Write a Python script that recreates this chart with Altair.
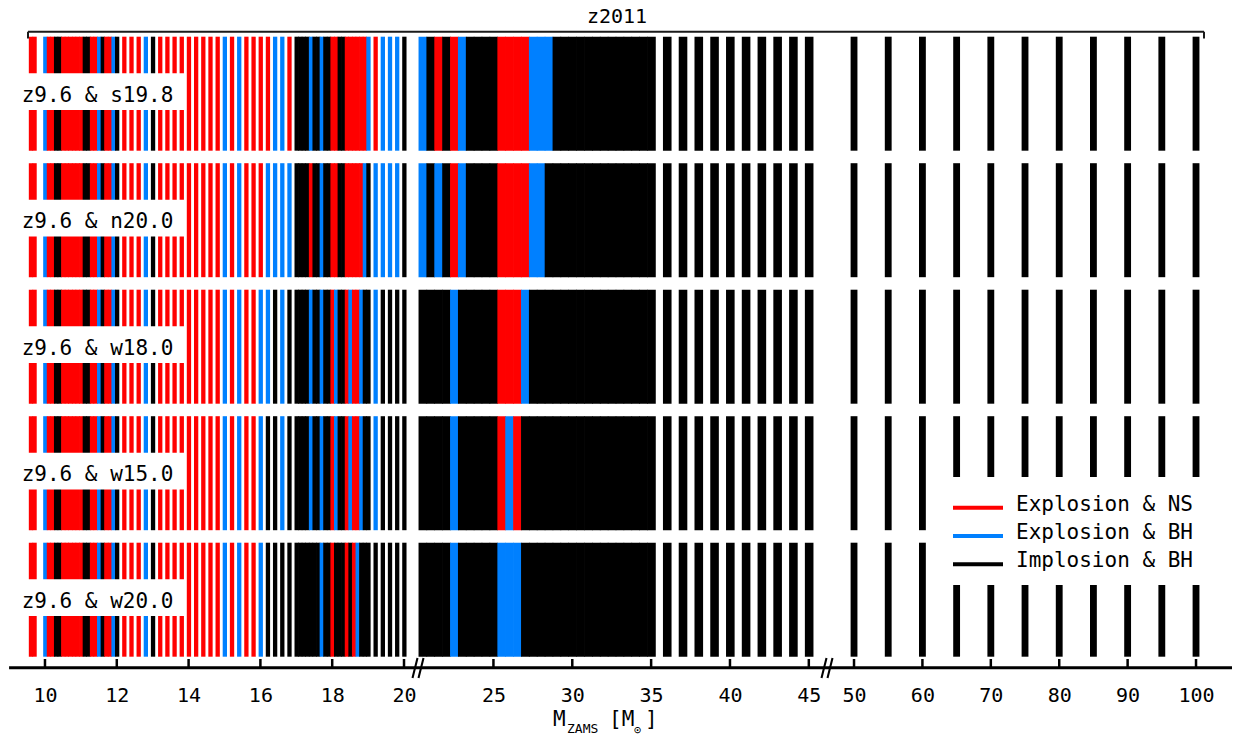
import altair as alt
import pandas as pd

# ------------------------------------------------------------------
# Progenitor masses (M_sun) of the z2011 series, grouped by grid spacing
# ------------------------------------------------------------------
mass_fine_lo = [9.6, 9.7, 10.0, 10.1, 10.2, 10.3, 10.4, 10.5, 10.6, 10.7, 10.8, 10.9,
                11.0, 11.1, 11.2, 11.3, 11.4, 11.5, 11.6, 11.7, 11.8, 11.9, 12.0]
mass_coarse_lo = [12.2, 12.4, 12.6, 12.8, 13.0, 13.2, 13.4, 13.6, 13.8, 14.0, 14.2, 14.4,
                  14.6, 14.8, 15.0, 15.2, 15.4, 15.6, 15.8, 16.0, 16.2, 16.4, 16.6, 16.8]
mass_fine_hi = [17.0, 17.1, 17.2, 17.3, 17.4, 17.5, 17.6, 17.7, 17.8, 17.9, 18.0,
                18.1, 18.2, 18.3, 18.4, 18.5, 18.6, 18.7, 18.8, 18.9, 19.0]
mass_coarse_hi = [19.2, 19.4, 19.6, 19.8, 20.0]
mass_mid = [20.5, 21.0, 21.5, 22.0, 22.5, 23.0, 23.5, 24.0, 24.5, 25.0, 25.5, 26.0,
            26.5, 27.0, 27.5, 28.0, 28.5, 29.0, 29.5, 30.0, 30.5, 31.0, 31.5, 32.0,
            32.5, 33.0, 33.5, 34.0, 34.5, 35.0]
mass_high = [36, 37, 38, 39, 40, 41, 42, 43, 44, 45]
mass_top = [50, 55, 60, 65, 70, 75, 80, 85, 90, 95, 100]

masses = (mass_fine_lo + mass_coarse_lo + mass_fine_hi + mass_coarse_hi
          + mass_mid + mass_high + mass_top)

# Calibration models, top to bottom
calibrations = ["z9.6 & s19.8", "z9.6 & n20.0", "z9.6 & w18.0", "z9.6 & w15.0", "z9.6 & w20.0"]

# Outcome per mass: N = explosion & NS, B = explosion & BH, I = implosion & BH
outcome_s198 = ("NNBNNIINNNNNNIINNBINNBI" "NNNBINNNNNNNNNBNBNNNNBBN"
                "IIIIBIIBIINNIINNNNNNB" "NBBBI"
                "BININBIIIINNNNBBBIIIIIIIIIIIII" "IIIIIIIIII" "IIIIIIIIIII")
outcome_n200 = ("NNBNNIINNNNNNIINNBINNBI" "NNNBINNNNNNNNNBNBNNNBBBB"
                "IIIINIIBIINNIINNNNNBI" "BBBBI"
                "BIBINBIIIINNNNBBIIIIIIIIIIIIII" "IIIIIIIIII" "IIIIIIIIIII")
outcome_w180 = ("NNBNNIINNNNNNIINNBINNBI" "NNNBINNNNNNNNNBNBNNBBIBI"
                "IIIIBIIBIINBIINBNNBII" "BIIII"
                "IIIIBIIIIINNNBIIIIIIIIIIIIIIII" "IIIIIIIIII" "IIIIIIIIIII")
outcome_w150 = ("NNBNNIINNNNNNIINNBINNBI" "NNNBINNNNNNNNNBNBNNBIIBI"
                "IIIIBIIBIINBIINBNNBII" "BIIII"
                "IIIIBIIIIINBNIIIIIIIIIIIIIIIII" "IIIIIIIIII" "IIIIIIIIIII")
outcome_w200 = ("NNBNNIINNNNNNIINNBINNBI" "NNNBINNNNNNNNNBNBNNBIIII"
                "IIIIIIIBIINIIININBIII" "IIIII"
                "IIIIBIIIIIBBBIIIIIIIIIIIIIIIII" "IIIIIIIIII" "IIIIIIIIIII")
outcomes = [outcome_s198, outcome_n200, outcome_w180, outcome_w150, outcome_w200]

outcome_names = {"N": "Explosion & NS", "B": "Explosion & BH", "I": "Implosion & BH"}
legend_labels = ["Explosion & NS", "Explosion & BH", "Implosion & BH"]
legend_colors = ["#ff0000", "#0080ff", "#000000"]

tick_values = [10, 12, 14, 16, 18, 20, 25, 30, 35, 40, 45, 50, 60, 70, 80, 90, 100]

FONT = "DejaVu Sans Mono"

# ------------------------------------------------------------------
# Tables for the library
# ------------------------------------------------------------------
records = []
for r, codes in enumerate(outcomes):
    assert len(codes) == len(masses)
    for m, c in zip(masses, codes):
        # stripe width follows the grid spacing of each axis segment;
        # a small overlap on the right keeps touching stripes seamless
        if m <= 20:
            w, lap = 0.1, 0.02
        elif m <= 45:
            w, lap = 0.5, 0.045
        else:
            w, lap = 1.0, 0.0
        records.append({"row": r, "mass": m, "outcome": outcome_names[c],
                        "x0": m - w / 2, "x1": m + w / 2 + lap,
                        "y0": r, "y1": r + 0.9012})
bars_df = pd.DataFrame(records)

labels_df = pd.DataFrame({
    "name": calibrations,
    "bx0": [8.75] * 5, "bx1": [13.9] * 5,
    "by0": [r + 0.2893 for r in range(5)],
    "by1": [r + 0.5795 for r in range(5)],
    "tx": [9.35] * 5,
    "ty": [r + 0.516 for r in range(5)],
})

ticks_df = pd.DataFrame({"tick": tick_values})

# broken mass axis: three linear pieces joined into one piecewise scale
xs = alt.Scale(domain=[8.75, 20.1, 20.2, 45.5, 47.0, 105.26],
               range=[0.1, 407.6, 417.75, 816.7, 833.5, 1232.0],
               zero=False, nice=False)
ys = alt.Scale(domain=[0, 5], range=[36.7, 669.2], zero=False, nice=False)

base_w, base_h = 1234, 668

bars = alt.Chart(bars_df).mark_rect().encode(
    x=alt.X("x0:Q", scale=xs,
            axis=alt.Axis(values=tick_values, format="d", domain=False, ticks=False,
                          tickSize=0, grid=False, labelFont=FONT, labelFontSize=20,
                          labelColor="black", labelPadding=17, labelFlush=False,
                          labelOverlap=False, title=None)),
    x2="x1:Q",
    y=alt.Y("y0:Q", scale=ys, axis=None),
    y2="y1:Q",
    color=alt.Color("outcome:N", scale=alt.Scale(domain=legend_labels, range=legend_colors),
                    legend=None),
)

label_boxes = alt.Chart(labels_df).mark_rect(color="white").encode(
    x=alt.X("bx0:Q", scale=xs, axis=None), x2="bx1:Q",
    y=alt.Y("by0:Q", scale=ys, axis=None), y2="by1:Q",
)
label_text = alt.Chart(labels_df).mark_text(
    font=FONT, fontSize=21, align="left", baseline="alphabetic", color="black"
).encode(
    x=alt.X("tx:Q", scale=xs, axis=None),
    y=alt.Y("ty:Q", scale=ys, axis=None),
    text="name:N",
)

# axis line, inward ticks and break marks
axis_line = alt.Chart(pd.DataFrame({"a": [9.0], "b": [105.26]})).mark_rule(
    strokeWidth=3, color="black").encode(
    x=alt.X("a:Q", scale=xs, axis=None), x2="b:Q", y=alt.value(667.7))
ticks = alt.Chart(ticks_df).mark_rule(strokeWidth=2.5, color="black").encode(
    x=alt.X("tick:Q", scale=xs, axis=None), y=alt.value(659), y2=alt.value(667.7))

breaks_df = pd.DataFrame({
    "x": [412.5, 418.5, 821.5, 827.5], "x2": [417.5, 423.5, 826.5, 832.5],
    "y": [678, 678, 678, 678], "y2": [658, 658, 658, 658]})
breaks = alt.Chart(breaks_df).mark_rule(strokeWidth=2, color="black").encode(
    x=alt.X("x:Q", scale=None), x2="x2:Q", y=alt.Y("y:Q", scale=None), y2="y2:Q")

# title bracket
bracket_df = pd.DataFrame({
    "x": [28, 28, 1204], "x2": [1204, 28, 1204],
    "y": [31.7, 31.7, 31.7], "y2": [31.7, 38.5, 38.5]})
bracket = alt.Chart(bracket_df).mark_rule(strokeWidth=2, color="#1a1a1a").encode(
    x=alt.X("x:Q", scale=None), x2="x2:Q", y=alt.Y("y:Q", scale=None), y2="y2:Q")
title = alt.Chart(pd.DataFrame({"t": ["z2011"]})).mark_text(
    font=FONT, fontSize=20, align="center", baseline="alphabetic", color="black"
).encode(x=alt.value(617), y=alt.value(22.7), text="t:N")

# legend with an opaque white panel over the high-mass stripes
legend_box = alt.Chart(pd.DataFrame({"x": [936], "x2": [1216], "y": [477], "y2": [585]})).mark_rect(
    color="white").encode(
    x=alt.X("x:Q", scale=None), x2="x2:Q", y=alt.Y("y:Q", scale=None), y2="y2:Q")
legend_df = pd.DataFrame({
    "label": legend_labels, "color": legend_colors,
    "ly": [507.7, 536.0, 564.3], "ty": [510.7, 538.6, 566.7]})
legend_lines = alt.Chart(legend_df).mark_rule(strokeWidth=4).encode(
    x=alt.value(953), x2=alt.value(1003),
    y=alt.Y("ly:Q", scale=None),
    color=alt.Color("color:N", scale=None))
legend_text = alt.Chart(legend_df).mark_text(
    font=FONT, fontSize=21, align="left", baseline="alphabetic", color="black"
).encode(x=alt.value(1016), y=alt.Y("ty:Q", scale=None), text="label:N")

# axis title  M_ZAMS [M_sun]
xtitle_df = pd.DataFrame({
    "t": ["M", "ZAMS", "[M", "\u2299", "]"],
    "px": [553, 567, 609, 634, 645],
    "py": [726, 733, 726, 734, 726],
    "fs": [21, 13, 21, 12, 21]})
xtitle = alt.Chart(xtitle_df).mark_text(
    font=FONT, align="left", baseline="alphabetic", color="black"
).encode(x=alt.X("px:Q", scale=None), y=alt.Y("py:Q", scale=None),
         text="t:N", size=alt.Size("fs:Q", scale=None))

chart = alt.layer(
    bars, label_boxes, label_text, legend_box, legend_lines, legend_text,
    axis_line, ticks, breaks, bracket, title, xtitle,
).resolve_scale(
    x="independent", y="independent", color="independent", size="independent"
).properties(
    width=base_w, height=base_h,
    padding={"left": 0, "top": 0, "right": 0, "bottom": 69},
    autosize="none",
    background="white",
).configure_view(stroke=None)

chart.save("out.html", embed_options={"renderer": "svg", "actions": False})
